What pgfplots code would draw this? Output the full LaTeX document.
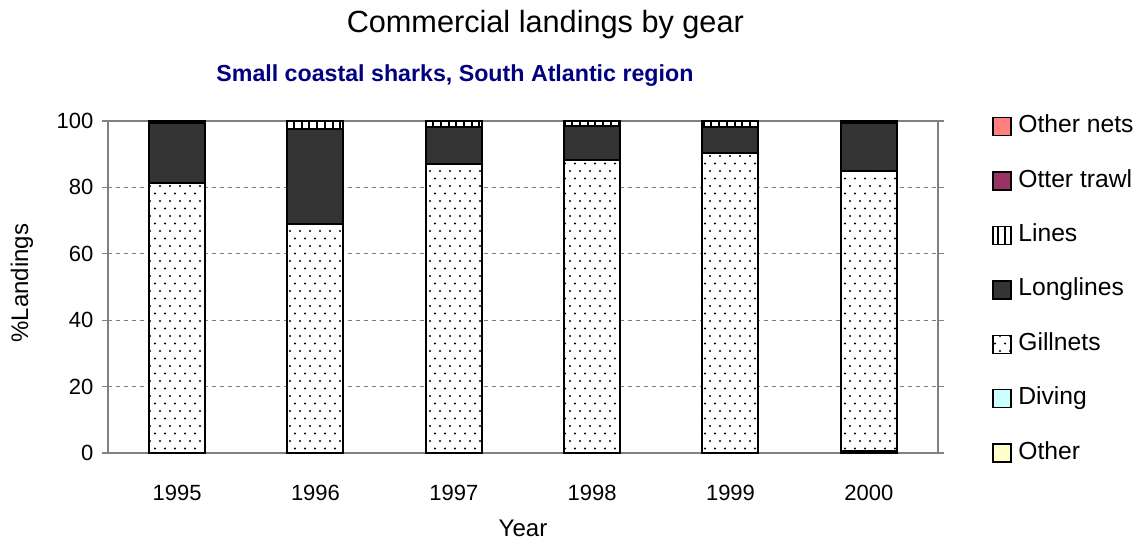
\documentclass[border=0pt]{standalone}
\usepackage{fontspec}
\setmainfont{Liberation Sans}
\usepackage{pgfplots}
\pgfplotsset{compat=1.18}
\usetikzlibrary{patterns,patterns.meta}
\definecolor{othernets}{HTML}{FF8080}
\definecolor{otter}{HTML}{993366}
\definecolor{longl}{HTML}{333333}
\definecolor{diving}{HTML}{CCFFFF}
\definecolor{otherc}{HTML}{FFFFCC}
\definecolor{navy}{HTML}{000080}
\definecolor{gridc}{HTML}{808080}
\pgfdeclarepatternformonly{sparsedots}{\pgfqpoint{-1pt}{-1pt}}{\pgfqpoint{8.5pt}{12.25pt}}{\pgfqpoint{7.5pt}{11.25pt}}{%
  \pgfpathcircle{\pgfqpoint{0pt}{0pt}}{0.85pt}%
  \pgfpathcircle{\pgfqpoint{3.75pt}{5.625pt}}{0.85pt}%
  \pgfusepath{fill}}
\begin{document}
\begin{tikzpicture}[x=0.75pt,y=0.75pt]
\begin{axis}[
  width=622.5pt, height=249pt, scale only axis,
  ybar stacked, bar width=42pt,
  xmin=-0.5, xmax=5.5, ymin=0, ymax=100,
  xtick={0,1,2,3,4,5},
  xticklabels={1995,1996,1997,1998,1999,2000},
  major x tick style={draw=none},
  extra x ticks={0.5,1.5,2.5,3.5,4.5},
  extra x tick labels={},
  extra x tick style={major tick length=5pt, tick style={draw=gridc, line width=0.8pt}, grid=none},
  ytick={0,20,40,60,80,100},
  ymajorgrids, grid style={dashed, gridc, line width=0.6pt},
  tick align=outside,
  major tick length=4.5pt,
  ytick style={draw=gridc, line width=0.8pt},
  axis line style={gridc, line width=0.8pt},
  tick label style={font=\fontsize{16.5}{18}\selectfont},
  /pgf/number format/assume math mode=true,
  xticklabel style={anchor=base, yshift=-30.75pt},
  yticklabel style={xshift=-3pt},
  ylabel={\%Landings},
  xlabel={Year},
  label style={font=\fontsize{18}{20}\selectfont},
  ylabel style={at={(rel axis cs:-0.1036,0.512)}, anchor=center, rotate=0},
  xlabel style={at={(rel axis cs:0.5,-0.25)}, anchor=base},
  legend style={draw=none, fill=none, at={(rel axis cs:1.065,1.018)}, anchor=north west,
    font=\fontsize{18.5}{20}\selectfont, row sep=23.8pt, inner sep=0pt,
    nodes={inner sep=0pt, text height=13pt, text depth=4pt},
    /tikz/every odd column/.append style={column sep=5pt},
    /tikz/every even column/.append style={column sep=0pt}},
  legend cell align=left,
  reverse legend,
  legend image code/.code={\draw[#1, line width=1.1pt] (0pt,-6.75pt) rectangle (13.5pt,6.75pt);},
  every axis plot/.append style={draw=black, line width=1.5pt},
  clip=false,
]
% Other
\addplot[fill=otherc] coordinates {(0,0) (1,0) (2,0) (3,0) (4,0) (5,0.5)};
% Diving
\addplot[fill=diving] coordinates {(0,0) (1,0) (2,0) (3,0) (4,0) (5,0)};
% Gillnets
\addplot[fill=white, postaction={pattern=sparsedots, pattern color=black}] coordinates {(0,81.3) (1,69) (2,87) (3,88.4) (4,90.4) (5,84.5)};
% Longlines
\addplot[fill=longl] coordinates {(0,18) (1,28.6) (2,11.3) (3,10.1) (4,7.9) (5,14.3)};
% Lines
\addplot[fill=white, postaction={pattern={Lines[angle=90, distance=5.8pt, line width=1.5pt]}, pattern color=black}] coordinates {(0,0.7) (1,2.4) (2,1.7) (3,1.5) (4,1.7) (5,0.4)};
% Otter trawl
\addplot[fill=otter] coordinates {(0,0) (1,0) (2,0) (3,0) (4,0) (5,0.3)};
% Other nets
\addplot[fill=othernets] coordinates {(0,0) (1,0) (2,0) (3,0) (4,0) (5,0)};
\legend{Other,Diving,Gillnets,Longlines,Lines,Otter trawl,Other nets}
\node[font=\fontsize{23}{26}\selectfont, anchor=base west] at (rel axis cs:0.282,1.268) {Commercial landings by gear};
\node[font=\fontsize{17.4}{20}\selectfont\bfseries, text=navy] at (rel axis cs:0.418,1.136) {Small coastal sharks, South Atlantic region};
\coordinate (bl) at (rel axis cs:-0.1301,-0.280);
\coordinate (tr) at (rel axis cs:1.247,1.3645);
\end{axis}
\pgfresetboundingbox
\path[use as bounding box] (bl) rectangle (tr);
\end{tikzpicture}
\end{document}
